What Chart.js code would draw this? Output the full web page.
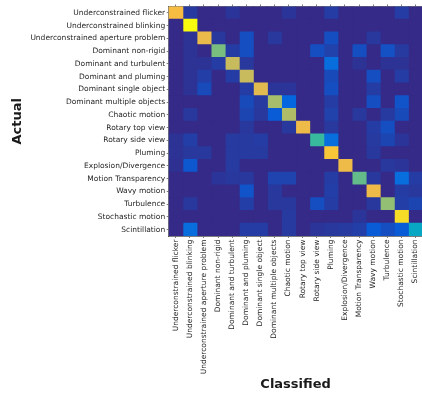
<!DOCTYPE html>
<html>
<head>
<meta charset="utf-8">
<script src="https://cdn.jsdelivr.net/npm/chart.js@4.4.1/dist/chart.umd.min.js"></script>
<style>
  html, body { margin: 0; padding: 0; background: #fff; overflow: hidden; }
</style>
</head>
<body>
<canvas id="mycanvas" width="426" height="398"></canvas>
<script>
// class names, same order for both axes
const CLASSES = [
  "Underconstrained flicker", "Underconstrained blinking", "Underconstrained aperture problem",
  "Dominant non-rigid", "Dominant and turbulent", "Dominant and pluming",
  "Dominant single object", "Dominant multiple objects", "Chaotic motion",
  "Rotary top view", "Rotary side view", "Pluming",
  "Explosion/Divergence", "Motion Transparency", "Wavy motion",
  "Turbulence", "Stochastic motion", "Scintillation"
]

// rows = actual, columns = classified
const confusion = [
  [0.82, 0.035, 0, 0, 0.025, 0, 0, 0, 0.025, 0, 0, 0.04, 0, 0, 0, 0, 0.04, 0],
  [0, 1.0, 0, 0, 0, 0, 0, 0, 0, 0, 0, 0, 0, 0, 0, 0, 0, 0],
  [0, 0.02, 0.79, 0.03, 0, 0.08, 0, 0.03, 0, 0, 0, 0.08, 0, 0, 0.03, 0, 0, 0],
  [0, 0.02, 0, 0.59, 0.04, 0.08, 0, 0, 0, 0, 0.08, 0.05, 0, 0.08, 0, 0.085, 0.035, 0],
  [0, 0.02, 0.02, 0.04, 0.72, 0.03, 0, 0, 0, 0, 0, 0.16, 0, 0.02, 0, 0.02, 0.02, 0],
  [0, 0.02, 0.045, 0, 0.04, 0.72, 0, 0, 0, 0, 0, 0.07, 0, 0, 0.08, 0, 0.04, 0],
  [0, 0.02, 0.07, 0, 0, 0.04, 0.77, 0.025, 0.025, 0, 0, 0.08, 0, 0, 0.04, 0, 0, 0],
  [0, 0, 0, 0, 0, 0.07, 0.035, 0.66, 0.14, 0, 0, 0.04, 0, 0, 0.08, 0, 0.09, 0],
  [0, 0.03, 0, 0, 0, 0.06, 0.03, 0.11, 0.68, 0, 0, 0.05, 0, 0.03, 0, 0.035, 0.07, 0],
  [0, 0, 0, 0, 0, 0.03, 0, 0, 0.03, 0.8, 0, 0.03, 0, 0, 0.04, 0.08, 0, 0],
  [0.02, 0.045, 0, 0, 0.035, 0.035, 0.04, 0, 0, 0, 0.5, 0.16, 0, 0, 0.035, 0.06, 0.025, 0],
  [0.02, 0.03, 0.03, 0, 0.035, 0.035, 0.035, 0, 0, 0, 0, 0.86, 0, 0, 0.03, 0, 0, 0],
  [0.015, 0.1, 0, 0, 0.035, 0, 0, 0, 0, 0, 0, 0, 0.8, 0, 0, 0.03, 0.025, 0],
  [0, 0, 0, 0.025, 0.03, 0.03, 0, 0.055, 0.055, 0, 0, 0.04, 0, 0.56, 0.03, 0, 0.16, 0.04],
  [0, 0, 0, 0, 0, 0.09, 0, 0.03, 0, 0, 0, 0.045, 0, 0, 0.8, 0, 0.04, 0.03],
  [0, 0.03, 0, 0, 0, 0.045, 0, 0.03, 0.03, 0, 0.08, 0.04, 0, 0, 0.03, 0.625, 0.045, 0.06],
  [0, 0, 0, 0, 0, 0, 0, 0, 0.035, 0, 0, 0, 0, 0.025, 0, 0, 0.93, 0],
  [0, 0.16, 0, 0, 0, 0.04, 0.04, 0, 0.035, 0, 0.025, 0.03, 0.035, 0.045, 0.11, 0.08, 0.11, 0.38]
]

// parula-like colormap: [position, colour]
const PARULA = [
  [0, "#352a87"], [0.125, "#0363e1"], [0.25, "#1485d4"], [0.375, "#06a7c6"],
  [0.5, "#38b99e"], [0.625, "#92bf73"], [0.75, "#d9ba56"], [0.83, "#fbbc3f"],
  [0.92, "#f5d82a"], [1, "#f9fb0e"]
]
const VMAX = 1

function hexToRgb(h) {
  return [parseInt(h.slice(1, 3), 16), parseInt(h.slice(3, 5), 16), parseInt(h.slice(5, 7), 16)]
}

function parula(v) {
  var t = Math.max(0, Math.min(1, v / VMAX))
  var i = 0
  while (i < PARULA.length - 2 && t > PARULA[i + 1][0]) i++
  var f = (t - PARULA[i][0]) / (PARULA[i + 1][0] - PARULA[i][0])
  var a = hexToRgb(PARULA[i][1]), b = hexToRgb(PARULA[i + 1][1])
  var c = a.map((x, k) => Math.round(x + (b[k] - x) * f))
  return `rgb(${c[0]},${c[1]},${c[2]})`
}

// one floating-bar dataset per classified column
var datasets = CLASSES.map((name, j) => ({
  label: name,
  data: CLASSES.map(() => [j - 0.5, j + 0.5]),
  backgroundColor: confusion.map(row => parula(row[j])),
  borderWidth: 0,
  inflateAmount: 0.5,
  grouped: false,
  barPercentage: 1,
  categoryPercentage: 1
}))

const TICK_FONT = { family: "DejaVu Sans", size: 7.5 }
const TITLE_FONT = { family: "DejaVu Sans", size: 13, weight: "bold" }
const AXIS_COLOR = "#262626"

const ctx = document.getElementById('mycanvas').getContext('2d')
window.chart = new Chart(ctx, {
  type: 'bar',
  data: { labels: CLASSES, datasets: datasets },
  options: {
    indexAxis: 'y',
    responsive: false,
    animation: false,
    layout: { padding: { top: 6.5, right: 1.7, left: 0, bottom: 0 } },
    plugins: { legend: { display: false }, tooltip: { enabled: false } },
    scales: {
      y: {
        type: 'category',
        offset: true,
        grid: { offset: false, drawOnChartArea: false, tickLength: 2, tickWidth: 0.6, tickColor: AXIS_COLOR },
        border: { display: true, color: AXIS_COLOR, width: 0.6 },
        ticks: { font: TICK_FONT, color: AXIS_COLOR, padding: 1.5, autoSkip: false },
        title: { display: true, text: "Actual", font: TITLE_FONT, color: "#1a1a1a", padding: { top: 10, bottom: 0 } },
        afterFit: s => { s.width = 168.7 }
      },
      x: {
        type: 'linear',
        min: -0.5,
        max: 17.5,
        afterBuildTicks: s => { s.ticks = CLASSES.map((c, i) => ({ value: i })) },
        grid: { drawOnChartArea: false, tickLength: 2, tickWidth: 0.6, tickColor: AXIS_COLOR },
        border: { display: true, color: AXIS_COLOR, width: 0.6 },
        ticks: {
          font: TICK_FONT, color: AXIS_COLOR, padding: 1.5, autoSkip: false,
          minRotation: 90, maxRotation: 90,
          callback: v => CLASSES[v]
        },
        title: { display: true, text: "Classified", font: TITLE_FONT, color: "#1a1a1a", padding: { top: 0, bottom: 6 } },
        afterFit: s => { s.height = 162 }
      },
      xTop: {
        type: 'linear',
        position: 'top',
        min: -0.5,
        max: 17.5,
        afterBuildTicks: s => { s.ticks = CLASSES.map((c, i) => ({ value: i })) },
        grid: { drawOnChartArea: false, tickLength: 2, tickWidth: 0.6, tickColor: AXIS_COLOR },
        border: { display: true, color: AXIS_COLOR, width: 0.6 },
        ticks: { display: false },
        afterFit: s => { s.height = 0 }
      }
    }
  }
})
</script>
</body>
</html>
